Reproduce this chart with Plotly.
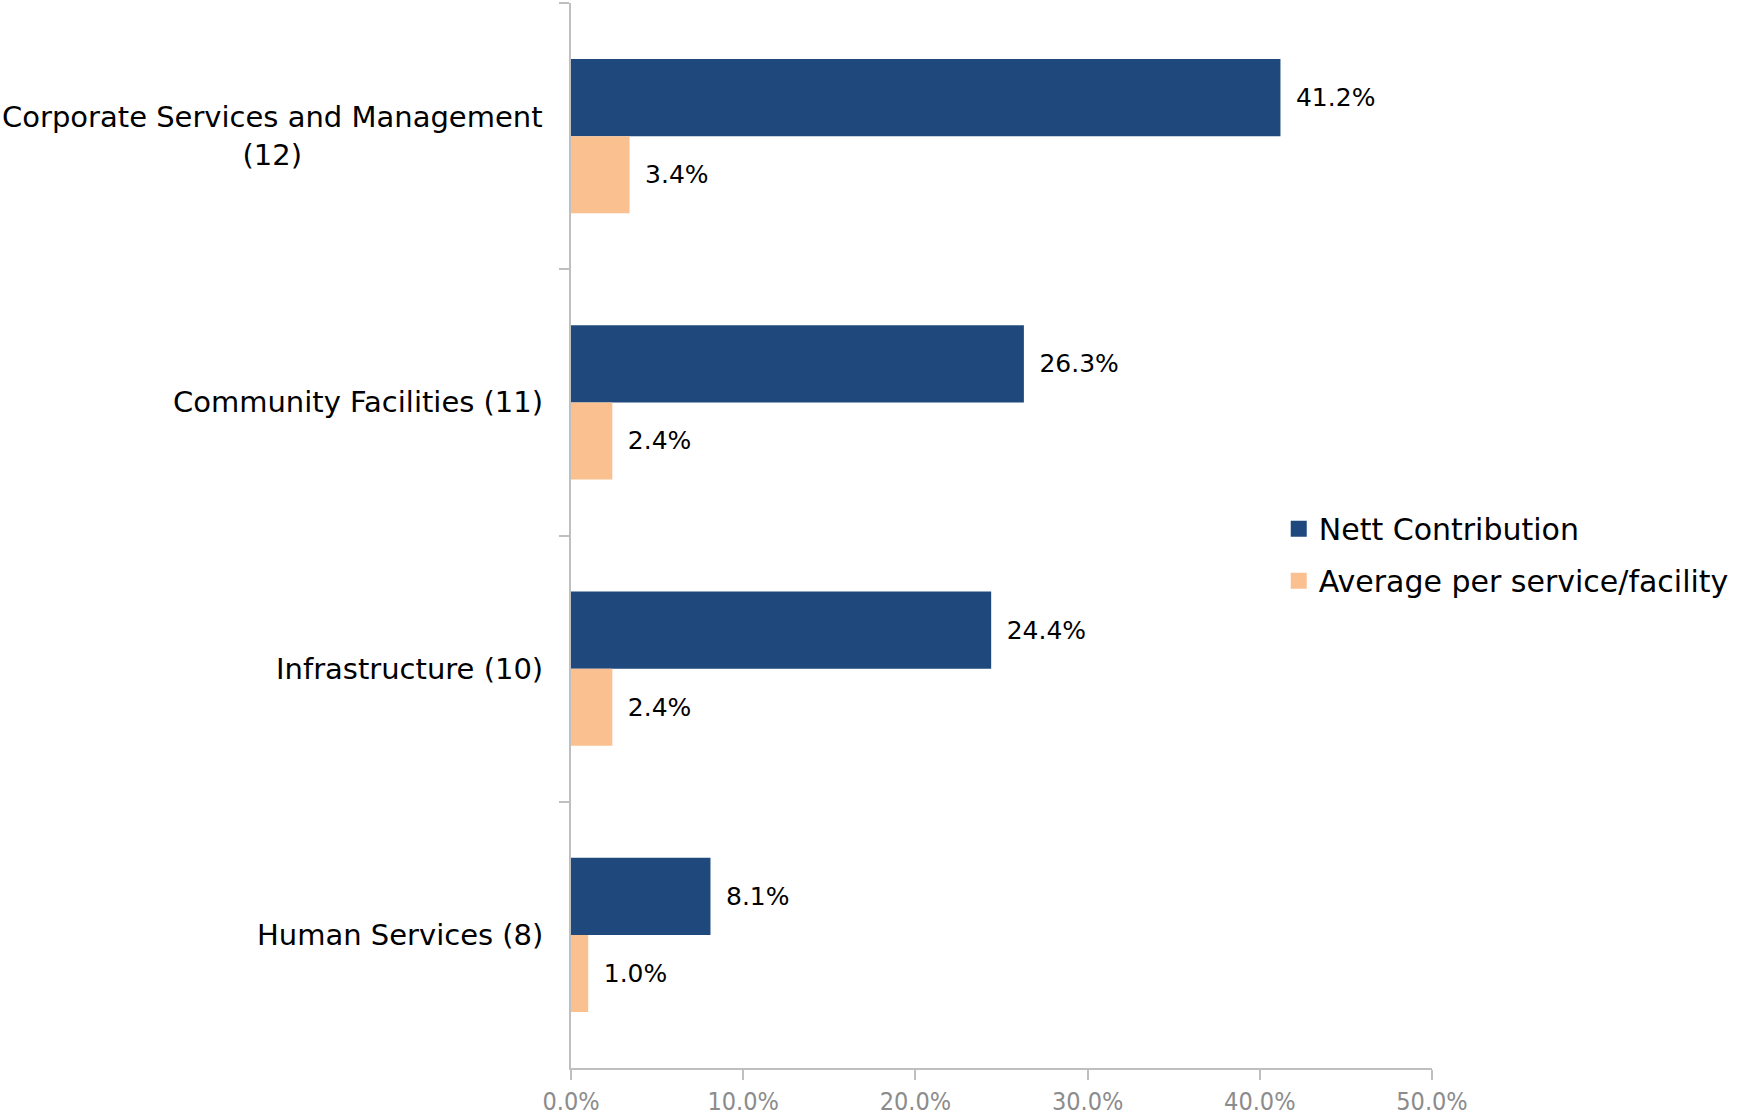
import plotly.graph_objects as go

# Category labels (top to bottom) and the two series, in percent
categories = [
    "Corporate Services and Management (12)",
    "Community Facilities (11)",
    "Infrastructure (10)",
    "Human Services (8)",
]
category_labels = [
    "Corporate Services and Management<br>(12)",
    "Community Facilities (11)",
    "Infrastructure (10)",
    "Human Services (8)",
]
series_names = ["Nett Contribution", "Average per service/facility"]
nett_contribution = [41.2, 26.3, 24.4, 8.1]
average_per_service = [3.4, 2.4, 2.4, 1.0]
x_ticks = [0, 10, 20, 30, 40, 50]
x_tick_labels = ["0.0%", "10.0%", "20.0%", "30.0%", "40.0%", "50.0%"]

NAVY = "#1F497D"
PEACH = "#FAC090"
AXIS_GREY = "#BFBFBF"
MAIN_FONT = "DejaVu Sans"

fig = go.Figure()
for name, values, colour, group in [
    (series_names[0], nett_contribution, NAVY, "a"),
    (series_names[1], average_per_service, PEACH, "b"),
]:
    fig.add_trace(go.Bar(
        y=categories, x=values, orientation="h",
        name=name, marker_color=colour, marker_line_width=0,
        text=["\u2002" + f"{v:.1f}%" for v in values],
        textposition="outside", cliponaxis=False,
        textfont=dict(family=MAIN_FONT, size=25, color="#000000"),
        legendgroup=group, showlegend=False,
    ))
    # legend key with a larger square swatch
    fig.add_trace(go.Scatter(
        x=[None], y=[None], mode="markers", name=name,
        marker=dict(symbol="square", size=16, color=colour),
        legendgroup=group, showlegend=True,
    ))

# Category names drawn as centred, right-anchored text beside the axis
for cat, lab in zip(categories, category_labels):
    fig.add_annotation(
        x=0, xref="paper", y=cat, yref="y", text=lab, showarrow=False,
        xanchor="right", xshift=-26, align="center",
        font=dict(family=MAIN_FONT, size=29, color="#000000"),
    )

fig.update_layout(
    width=1754, height=1118,
    margin=dict(l=571, r=322, t=3, b=50),
    paper_bgcolor="white", plot_bgcolor="white",
    barmode="group", bargap=0.42, bargroupgap=0,
    showlegend=True,
    legend=dict(
        x=0.822, y=0.482, xanchor="left", yanchor="middle",
        font=dict(family=MAIN_FONT, size=30, color="#000000"),
        traceorder="grouped", tracegroupgap=10,
        itemwidth=30, bgcolor="rgba(0,0,0,0)",
    ),
    xaxis=dict(
        range=[0, 50], tickvals=x_ticks, ticktext=x_tick_labels,
        showgrid=False, zeroline=False,
        showline=True, linecolor=AXIS_GREY, linewidth=1.5,
        ticks="outside", ticklen=10, tickcolor=AXIS_GREY, tickwidth=1.5,
        tickfont=dict(family="Liberation Sans Narrow, DejaVu Sans Condensed, Arial Narrow", size=25, color="#8C8C8C"),
    ),
    yaxis=dict(
        categoryorder="array", categoryarray=categories,
        autorange="reversed", showticklabels=False,
        showgrid=False, zeroline=False,
        showline=True, linecolor=AXIS_GREY, linewidth=1.5,
        ticks="outside", ticklen=10, tickcolor=AXIS_GREY, tickwidth=1.5,
        tickson="boundaries",
    ),
)

fig.write_html("out.html")
